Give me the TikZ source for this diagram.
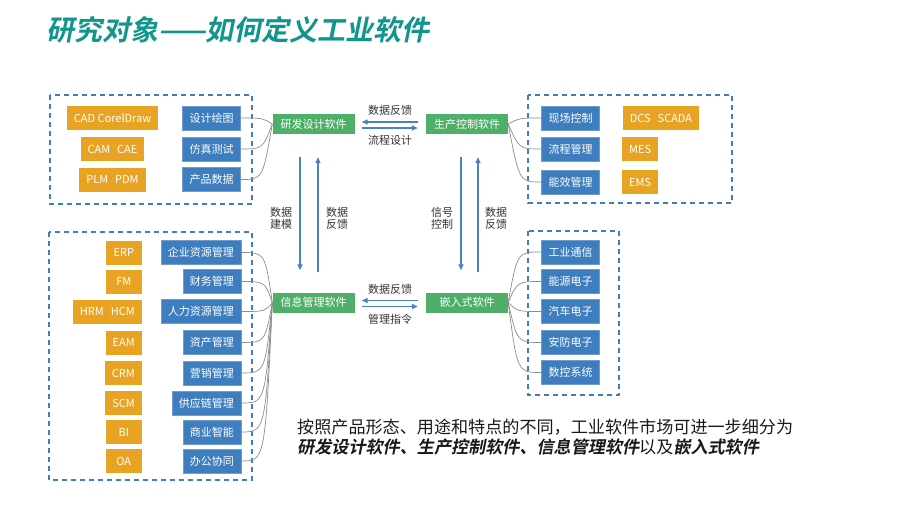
\documentclass[tikz,border=0pt]{standalone}
\usepackage{fontspec}
\setmainfont{Noto Sans CJK SC}
\newfontfamily\heavyslant[FakeSlant=0.2]{Noto Sans CJK SC Bold}
\usepackage{tikz}
\usetikzlibrary{arrows.meta}
\definecolor{titleteal}{RGB}{18, 150, 140}
\definecolor{boxblue}{RGB}{62, 125, 190}
\definecolor{boxorange}{RGB}{232, 163, 35}
\definecolor{boxgreen}{RGB}{78, 175, 104}
\definecolor{frameblue}{RGB}{66, 126, 190}
\definecolor{arrowblue}{RGB}{72, 130, 192}

\begin{document}
\begin{tikzpicture}[x=1pt, y=-1pt,
  orangebox/.style={fill=boxorange, text=white, font=\fontsize{11}{13}\selectfont, inner xsep=7pt, inner ysep=0pt, minimum height=24pt, minimum width=36pt},
  bluebox/.style={fill=boxblue, draw=boxblue!75!white, text=white, font=\fontsize{11}{13}\selectfont, inner xsep=7pt, inner ysep=0pt, minimum height=24pt},
  softbox/.style={fill=boxgreen, text=white, font=\fontsize{11}{13}\selectfont, inner sep=0pt, minimum width=82pt, minimum height=20pt},
  group/.style={draw=frameblue, line width=1.6pt, dash pattern=on 5pt off 4pt},
  flow/.style={draw=arrowblue, line width=1.3pt, -{Triangle[length=6pt, width=5pt]}},
  link/.style={draw=gray!90, line width=0.7pt},
  note/.style={text=black!80, font=\fontsize{11}{12}\selectfont, align=center, inner sep=0pt}
]
\useasboundingbox (0,0) rectangle (920,517);

\node[anchor=base west, text=titleteal, font=\fontsize{28}{30}\heavyslant, inner sep=0pt] (title) at (46,40) {研究对象——如何定义工业软件};

% dashed groups
\draw[group] (50,95) rectangle (252,204);
\draw[group] (528,95) rectangle (732,203);
\draw[group] (49,232) rectangle (252,480);
\draw[group] (528,231) rectangle (619,395);

% four kinds of software
\node[softbox] (yfsj) at (313.5,124) {研发设计软件};
\node[softbox] (sckz) at (467,124) {生产控制软件};
\node[softbox] (xxgl) at (313.5,302.5) {信息管理软件};
\node[softbox] (qrs) at (467,302.5) {嵌入式软件};

% top left
\node[orangebox] (cad) at (112.5,118) {CAD CorelDraw};
\node[orangebox] (cam) at (112.5,149) {CAM\hspace{7pt}CAE};
\node[orangebox] (plm) at (112.5,179.5) {PLM\hspace{7pt}PDM};
\node[bluebox] (sjht) at (211.5,118) {设计绘图};
\node[bluebox] (fzcs) at (211.5,149) {仿真测试};
\node[bluebox] (cpsj) at (211.5,179.5) {产品数据};

% top right
\node[bluebox] (xckz) at (570.5,118) {现场控制};
\node[bluebox] (lcgl) at (570.5,149) {流程管理};
\node[bluebox] (nxgl) at (570.5,182) {能效管理};
\node[orangebox] (dcs) at (661,118) {DCS\hspace{7pt}SCADA};
\node[orangebox, anchor=west] (mes) at (622,149) {MES};
\node[orangebox, anchor=west] (ems) at (622,182) {EMS};

% bottom left
\node[bluebox, anchor=east] (qyzy) at (241,252.5) {企业资源管理};
\node[bluebox, anchor=east] (cwgl) at (241,281.5) {财务管理};
\node[bluebox, anchor=east] (rlzy) at (241,311.5) {人力资源管理};
\node[bluebox, anchor=east] (zcgl) at (241,342.5) {资产管理};
\node[bluebox, anchor=east] (yxgl) at (241,373) {营销管理};
\node[bluebox, anchor=east] (gyl) at (241,403) {供应链管理};
\node[bluebox, anchor=east] (syzn) at (241,432) {商业智能};
\node[bluebox, anchor=east] (bgxt) at (241,461) {办公协同};
\node[orangebox, anchor=east] (erp) at (142,252.5) {ERP};
\node[orangebox, anchor=east] (fm) at (142,281.5) {FM};
\node[orangebox, anchor=east] (hrm) at (142,311.5) {HRM\hspace{7pt}HCM};
\node[orangebox, anchor=east] (eam) at (142,342.5) {EAM};
\node[orangebox, anchor=east] (crm) at (142,373) {CRM};
\node[orangebox, anchor=east] (scm) at (142,403) {SCM};
\node[orangebox, anchor=east] (bi) at (142,432) {BI};
\node[orangebox, anchor=east] (oa) at (142,461) {OA};

% bottom right
\node[bluebox] (gytx) at (570.5,252) {工业通信};
\node[bluebox] (nydz) at (570.5,281.5) {能源电子};
\node[bluebox] (qcdz) at (570.5,311.5) {汽车电子};
\node[bluebox] (afdz) at (570.5,342.5) {安防电子};
\node[bluebox] (skxt) at (570.5,372.5) {数控系统};

% fan-in links
\foreach \b in {sjht,fzcs,cpsj}
  \draw[link] (\b.east) .. controls +(22,0) .. (yfsj.west);
\foreach \b in {xckz,lcgl,nxgl}
  \draw[link] (\b.west) .. controls +(-22,0) .. (sckz.east);
\foreach \b in {qyzy,cwgl,rlzy,zcgl,yxgl,gyl,syzn,bgxt}
  \draw[link] (\b.east) .. controls +(24,0) .. (xxgl.west);
\foreach \b in {gytx,nydz,qcdz,afdz,skxt}
  \draw[link] (\b.west) .. controls +(-24,0) .. (qrs.east);

% flows between the four kinds
\draw[flow, shorten <=8pt, shorten >=7pt] ([yshift=2pt]sckz.west) -- ([yshift=2pt]yfsj.east);
\draw[flow, shorten <=7pt, shorten >=8pt] ([yshift=-4pt]yfsj.east) -- ([yshift=-4pt]sckz.west);
\draw[flow, shorten <=8pt, shorten >=7pt] ([yshift=2pt]qrs.west) -- ([yshift=2pt]xxgl.east);
\draw[flow, shorten <=7pt, shorten >=8pt] ([yshift=-4pt]xxgl.east) -- ([yshift=-4pt]qrs.west);
\draw[flow, shorten <=23pt, shorten >=22pt] ([xshift=-13.5pt]yfsj.south) -- ([xshift=-13.5pt]xxgl.north);
\draw[flow, shorten <=20pt, shorten >=23pt] ([xshift=4.5pt]xxgl.north) -- ([xshift=4.5pt]yfsj.south);
\draw[flow, shorten <=23pt, shorten >=22pt] ([xshift=-6pt]sckz.south) -- ([xshift=-6pt]qrs.north);
\draw[flow, shorten <=20pt, shorten >=23pt] ([xshift=11pt]qrs.north) -- ([xshift=11pt]sckz.south);

\node[note] (fk1) at (390,110) {数据反馈};
\node[note] (lcsj) at (390,140) {流程设计};
\node[note] (fk2) at (390,289) {数据反馈};
\node[note] (glzl) at (390,319) {管理指令};
\node[note] (sjjm) at (281,218) {数据\\建模};
\node[note] (fk3) at (337,218) {数据\\反馈};
\node[note] (xhkz) at (442,218) {信号\\控制};
\node[note] (fk4) at (496,218) {数据\\反馈};

\node[anchor=base west, align=left, inner sep=0pt, text=black!90, font=\fontsize{17.1}{20}\selectfont] (summary) at (297,453.5) {按照产品形态、用途和特点的不同，工业软件市场可进一步细分为\\{\heavyslant 研发设计软件、生产控制软件、信息管理软件}以及{\heavyslant 嵌入式软件}};

\end{tikzpicture}
\end{document}
